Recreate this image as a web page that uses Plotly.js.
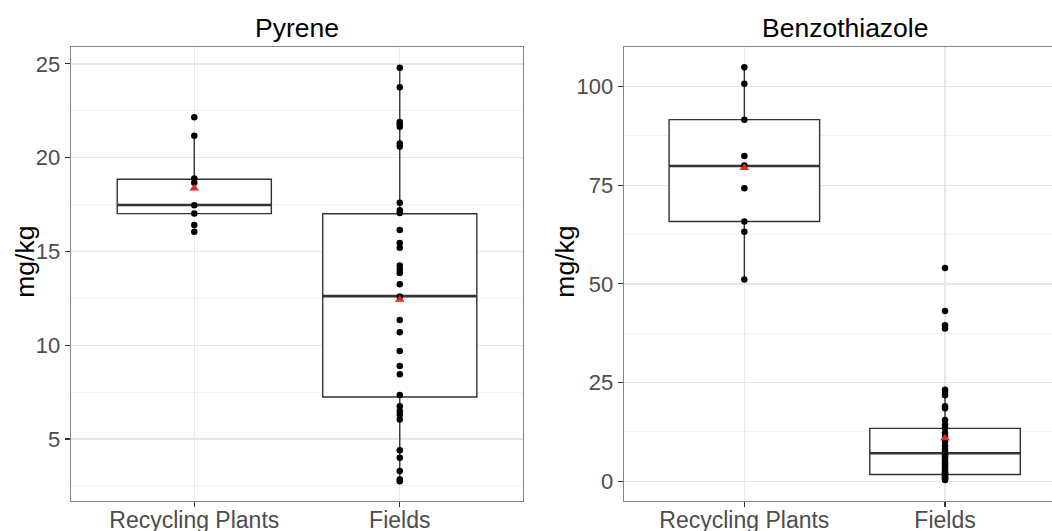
<!DOCTYPE html>
<html>
<head>
<meta charset="utf-8">
<script src="https://cdn.plot.ly/plotly-3.0.1.min.js"></script>
<style>
  html, body { margin: 0; padding: 0; background: #ffffff; }
  #chart { width: 1052px; height: 531px; }
</style>
</head>
<body>
<div id="chart"></div>
<script>
// ---------- data ----------
const categories = ["Recycling Plants", "Fields"];
const panelTitles = ["Pyrene", "Benzothiazole"];
const yAxisLabel = "mg/kg";

const pyreneRecycling = [22.15, 21.17, 18.89, 18.67, 17.46, 17.02, 16.41, 16.05];
const pyreneFields = [24.8, 23.75, 21.9, 21.8, 21.65, 20.75, 20.6, 17.6, 17.2, 17.05,
  16.15, 15.45, 15.2, 14.25, 14.05, 13.85, 13.25, 12.6, 11.35, 10.7, 9.7, 8.9, 8.45,
  7.35, 6.75, 6.5, 6.3, 6.05, 4.4, 4.0, 3.3, 2.85, 2.75];

const pyreneQ1 = [17.02, 7.24];
const pyreneMedian = [17.48, 12.62];
const pyreneQ3 = [18.85, 17.01];
const pyreneLowerFence = [17.02, 2.75];
const pyreneUpperFence = [21.17, 24.8];
const pyreneMean = [18.37, 12.44];

const benzoRecycling = [104.9, 100.7, 91.6, 82.4, 80.0, 74.2, 65.8, 63.2, 51.1];
const benzoFields = [54.0, 43.1, 39.5, 38.7, 23.2, 22.6, 21.8, 19.0, 18.5, 15.5, 14.3,
  13.4, 12.2, 11.5, 10.1, 9.0, 8.2, 7.6, 7.1, 6.6, 6.2, 5.9, 5.2, 4.6, 4.4, 4.0, 3.4,
  2.9, 2.3, 2.0, 1.8, 1.4, 1.0, 0.8, 0.6, 0.3];

const benzoQ1 = [65.8, 1.7];
const benzoMedian = [79.85, 7.1];
const benzoQ3 = [91.6, 13.4];
const benzoLowerFence = [51.1, 0.2];
const benzoUpperFence = [104.9, 23.2];
const benzoMean = [79.4, 10.9];

const pyreneTicks = [5, 10, 15, 20, 25];
const benzoTicks = [0, 25, 50, 75, 100];

// ---------- styling ----------
const FONT = "Liberation Sans, Arial, Helvetica, sans-serif";
const BOX_W = 0.75;
const DARK = "#333333";
const BORDER = "#858585";
const positions = categories.map((c, i) => i + 1);

function boxTrace(xa, ya, q1, med, q3, lo, hi) {
  return {
    type: "box", xaxis: xa, yaxis: ya,
    x: positions, q1: q1, median: med, q3: q3, lowerfence: lo, upperfence: hi,
    width: BOX_W, whiskerwidth: 0, boxpoints: false,
    fillcolor: "#ffffff", line: { color: DARK, width: 1.4 },
    hoverinfo: "skip", showlegend: false
  };
}
function medianTrace(xa, ya, med) {
  const xs = [], ys = [];
  med.forEach((m, i) => {
    xs.push(positions[i] - BOX_W / 2, positions[i] + BOX_W / 2, null);
    ys.push(m, m, null);
  });
  return { type: "scatter", mode: "lines", xaxis: xa, yaxis: ya, x: xs, y: ys,
    line: { color: DARK, width: 2.6 }, hoverinfo: "skip", showlegend: false };
}
function pointsTrace(xa, ya, groups) {
  const xs = [], ys = [];
  groups.forEach((g, i) => g.forEach(v => { xs.push(positions[i]); ys.push(v); }));
  return { type: "scatter", mode: "markers", xaxis: xa, yaxis: ya, x: xs, y: ys,
    marker: { color: "#000000", size: 6.5 }, hoverinfo: "skip", showlegend: false };
}
function meanTrace(xa, ya, means) {
  return { type: "scatter", mode: "markers", xaxis: xa, yaxis: ya, x: positions, y: means,
    marker: { color: "#e8251f", size: 8.5, symbol: "triangle-up" },
    hoverinfo: "skip", showlegend: false };
}

const data = [
  boxTrace("x", "y", pyreneQ1, pyreneMedian, pyreneQ3, pyreneLowerFence, pyreneUpperFence),
  medianTrace("x", "y", pyreneMedian),
  pointsTrace("x", "y", [pyreneRecycling, pyreneFields]),
  meanTrace("x", "y", pyreneMean),
  boxTrace("x2", "y2", benzoQ1, benzoMedian, benzoQ3, benzoLowerFence, benzoUpperFence),
  medianTrace("x2", "y2", benzoMedian),
  pointsTrace("x2", "y2", [benzoRecycling, benzoFields]),
  meanTrace("x2", "y2", benzoMean)
];

const tickFont = { family: FONT, size: 22, color: "#4d4d4d" };
function xAxis(domain, range, anchor) {
  return {
    domain: domain, range: range, anchor: anchor, type: "linear",
    tickmode: "array", tickvals: positions, ticktext: categories,
    showgrid: true, gridcolor: "#e8e8e8", gridwidth: 1.2, zeroline: false,
    showline: true, mirror: true, linecolor: BORDER, linewidth: 1.3,
    ticks: "outside", ticklen: 5, tickcolor: DARK, tickwidth: 1.2,
    ticklabelstandoff: -7,
    tickfont: { family: FONT, size: 23, color: "#4d4d4d" }, fixedrange: true
  };
}
function yAxis(range, ticks, minorStep, anchor, mirror) {
  return {
    range: range, anchor: anchor, tickmode: "array", tickvals: ticks,
    showgrid: true, gridcolor: "#e6e6e6", gridwidth: 1.3, zeroline: false,
    minor: { dtick: minorStep, tick0: 0, showgrid: true, gridcolor: "#f2f2f2", gridwidth: 1, ticks: "" },
    showline: true, mirror: mirror, linecolor: BORDER, linewidth: 1.3,
    ticks: "outside", ticklen: 5, tickcolor: DARK, tickwidth: 1.2,
    tickfont: tickFont, fixedrange: true
  };
}

const centre = (positions[0] + positions[positions.length - 1]) / 2;
const titleFont = { family: FONT, size: 26.5, color: "#000000" };

const layout = {
  width: 1052, height: 531,
  margin: { l: 0, r: 0, t: 47, b: 30, pad: 0 },
  paper_bgcolor: "#ffffff", plot_bgcolor: "#ffffff",
  showlegend: false,
  xaxis: xAxis([0.0675, 0.4972], [0.4, 2.6], "y"),
  yaxis: yAxis([1.7, 25.9], pyreneTicks, 2.5, "x", true),
  xaxis2: xAxis([0.5931, 1.0], [0.4, 2.533], "y2"),
  yaxis2: yAxis([-5.0, 110.0], benzoTicks, 12.5, "x2", false),
  annotations: panelTitles.map((t, i) => ({
    text: t, xref: i === 0 ? "x" : "x2", yref: "paper", x: centre, y: 1,
    xanchor: "center", yanchor: "bottom", yshift: 2, showarrow: false,
    font: titleFont
  })).concat([0.0238, 0.537].map(xp => ({
    text: yAxisLabel, xref: "paper", yref: "paper", x: xp, y: 0.527,
    xanchor: "center", yanchor: "middle", textangle: -90, showarrow: false,
    font: titleFont
  })))
};

Plotly.newPlot("chart", data, layout, { staticPlot: true, displayModeBar: false });
</script>
</body>
</html>
